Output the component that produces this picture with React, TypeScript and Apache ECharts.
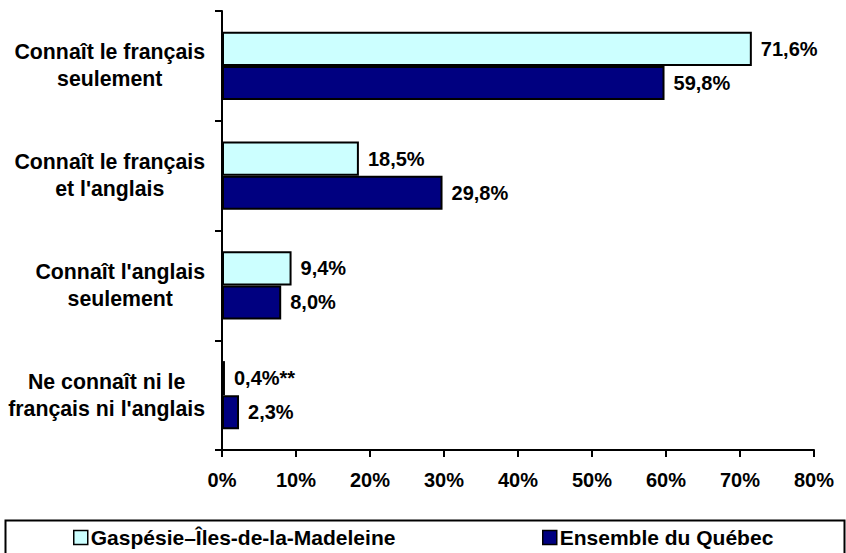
import React, { useEffect, useRef } from "react";
import * as echarts from "echarts";

const categories = [
  "Connaît le français\nseulement",
  "Connaît le français\net l'anglais",
  "Connaît l'anglais\nseulement",
  "Ne connaît ni le\nfrançais ni l'anglais",
];
const seriesNames = ["Gaspésie–Îles-de-la-Madeleine", "Ensemble du Québec"];
const gaspesieValues = [71.6, 18.5, 9.4, 0.4];
const gaspesieNotes = ["", "", "", "**"];
const quebecValues = [59.8, 29.8, 8.0, 2.3];
const quebecNotes = ["", "", "", ""];
const xTicks = [0, 10, 20, 30, 40, 50, 60, 70, 80];

const FONT = "'Liberation Sans', Arial, sans-serif";

const fmt = (v: number) => v.toFixed(1).replace(".", ",") + "%";

export default function App() {
  const ref = useRef<HTMLDivElement>(null);
  useEffect(() => {
    if (!ref.current) return;
    const chart = echarts.init(ref.current, undefined, { renderer: "svg" });
    const labelStyle = {
      show: true,
      position: "right" as const,
      distance: 9,
      color: "#000",
      fontFamily: FONT,
      fontWeight: "bold" as const,
      fontSize: 20,
    };
    const legendText = {
      color: "#000",
      fontFamily: FONT,
      fontWeight: "bold" as const,
      fontSize: 21,
      padding: [0, 0, 0, -2],
    };
    chart.setOption({
      animation: false,
      backgroundColor: "#fff",
      textStyle: { fontFamily: FONT },
      grid: { left: 222, right: 32, top: 11, bottom: 103, containLabel: false },
      xAxis: {
        type: "value",
        min: xTicks[0],
        max: xTicks[xTicks.length - 1],
        interval: 10,
        axisLine: { show: true, lineStyle: { color: "#000", width: 2 } },
        axisTick: { show: true, length: 7, lineStyle: { color: "#000", width: 2 } },
        splitLine: { show: false },
        axisLabel: {
          formatter: (v: number) => v + "%",
          color: "#000",
          fontFamily: FONT,
          fontWeight: "bold",
          fontSize: 20,
          margin: 20,
        },
      },
      yAxis: {
        type: "category",
        inverse: true,
        data: categories,
        axisLine: { show: true, lineStyle: { color: "#000", width: 2 } },
        axisTick: { show: true, length: 7, lineStyle: { color: "#000", width: 2 } },
        axisLabel: {
          margin: 17,
          align: "right",
          formatter: (v: string) =>
            v
              .split("\n")
              .map((l) => `{c|${l}}`)
              .join("\n"),
          rich: {
            c: {
              align: "center",
              color: "#000",
              fontFamily: FONT,
              fontWeight: "bold",
              fontSize: 21.3,
              lineHeight: 27,
            },
          },
        },
      },
      legend: [
        {
          data: [seriesNames[0]],
          left: 73,
          top: 527,
          icon: "rect",
          itemWidth: 14,
          itemHeight: 14,
          itemStyle: { borderColor: "#000", borderWidth: 1.5 },
          textStyle: legendText,
          padding: 0,
        },
        {
          data: [seriesNames[1]],
          left: 542,
          top: 527,
          icon: "rect",
          itemWidth: 14,
          itemHeight: 14,
          itemStyle: { borderColor: "#000", borderWidth: 1.5 },
          textStyle: legendText,
          padding: 0,
        },
      ],
      graphic: [
        {
          type: "rect",
          left: 3,
          top: 518,
          shape: { x: 0, y: 0, width: 839, height: 45 },
          style: { fill: "none", stroke: "#000", lineWidth: 2 },
          silent: true,
        },
      ],
      series: [
        {
          name: seriesNames[0],
          type: "bar",
          data: gaspesieValues,
          barGap: "0%",
          barCategoryGap: "38%",
          itemStyle: { color: "#CCFFFF", borderColor: "#000", borderWidth: 2 },
          label: {
            ...labelStyle,
            formatter: (p: any) => fmt(p.value) + gaspesieNotes[p.dataIndex],
          },
        },
        {
          name: seriesNames[1],
          type: "bar",
          data: quebecValues,
          barGap: "0%",
          barCategoryGap: "38%",
          itemStyle: { color: "#000080", borderColor: "#000", borderWidth: 2 },
          label: {
            ...labelStyle,
            formatter: (p: any) => fmt(p.value) + quebecNotes[p.dataIndex],
          },
        },
      ],
    });
    return () => chart.dispose();
  }, []);
  return (
    <div
      ref={ref}
      style={{ position: "absolute", left: 0, top: 0, width: 846, height: 553 }}
    />
  );
}
